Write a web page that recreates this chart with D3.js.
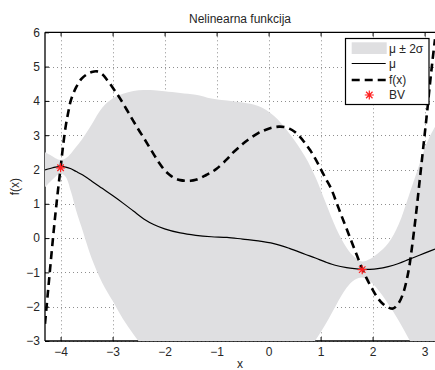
<!DOCTYPE html>
<html>
<head>
<meta charset="utf-8">
<script src="https://cdn.jsdelivr.net/npm/d3@7"></script>
<style>
  html, body { margin: 0; padding: 0; background: #fff; }
  svg { display: block; font-family: "Liberation Sans", Arial, Helvetica, sans-serif; }
</style>
</head>
<body>
<svg id="chart" width="435" height="370"></svg>
<script>
// Posterior grid: mean and the mu ± 2 sigma envelope
const gridX = [-4.3, -4.2, -4.1, -4.0, -3.9, -3.8, -3.7, -3.6, -3.4, -3.2, -3.0, -2.8, -2.6, -2.4, -2.2, -2.0,
  -1.7, -1.4, -1.1, -0.8, -0.5, -0.2, 0.1, 0.4, 0.7, 0.9, 1.1, 1.3, 1.5, 1.65, 1.8, 1.95, 2.1, 2.3, 2.5,
  2.7, 2.9, 3.05, 3.2];
const muValues = [1.99, 2.03, 2.07, 2.09, 2.07, 2.02, 1.94, 1.86, 1.66, 1.45, 1.24, 1.02, 0.79, 0.56, 0.39, 0.27,
  0.15, 0.08, 0.04, 0.02, -0.03, -0.08, -0.16, -0.30, -0.47, -0.58, -0.70, -0.80, -0.86, -0.89, -0.91, -0.91, -0.89,
  -0.83, -0.74, -0.62, -0.50, -0.41, -0.32];
const upperValues = [2.50, 2.42, 2.33, 2.28, 2.33, 2.47, 2.66, 2.85, 3.32, 3.80, 4.07, 4.21, 4.29, 4.32, 4.31, 4.28,
  4.23, 4.18, 4.07, 4.01, 3.95, 3.85, 3.57, 3.05, 2.38, 1.78, 1.02, 0.28, -0.28, -0.55, -0.68, -0.61, -0.45,
  -0.15, 0.40, 1.25, 2.15, 2.80, 3.25];
const lowerValues = [1.48, 1.64, 1.79, 1.89, 1.78, 1.35, 0.80, 0.33, -0.60, -1.30, -1.83, -2.36, -2.80, -3.20, -3.55, -3.85,
  -4.20, -4.40, -4.50, -4.50, -4.40, -4.30, -4.10, -3.80, -3.35, -2.98, -2.50, -1.95, -1.45, -1.22, -1.15, -1.26, -1.50,
  -1.92, -2.40, -2.95, -3.50, -3.90, -4.30];

// The true nonlinear function f(x)
const fX = [-4.3, -4.25, -4.2, -4.15, -4.1, -4.05, -4.0, -3.95, -3.9, -3.85, -3.8, -3.7, -3.6, -3.5, -3.4, -3.3,
  -3.2, -3.1, -3.0, -2.9, -2.8, -2.7, -2.6, -2.5, -2.4, -2.3, -2.2, -2.1, -2.0, -1.9, -1.8, -1.7, -1.6, -1.5,
  -1.4, -1.3, -1.2, -1.1, -1.0, -0.8, -0.7, -0.5, -0.4, -0.2, -0.1, 0.0, 0.1, 0.2, 0.3, 0.4, 0.5, 0.6, 0.7,
  0.8, 0.9, 1.0, 1.1, 1.2, 1.3, 1.4, 1.5, 1.6, 1.7, 1.8, 1.9, 2.0, 2.1, 2.2, 2.3, 2.35, 2.4, 2.5, 2.6, 2.7,
  2.75, 2.8, 2.85, 2.9, 2.95, 3.0, 3.05, 3.1, 3.15, 3.2];
const fValues = [-2.5, -1.68, -0.86, -0.06, 0.70, 1.40, 2.05, 2.72, 3.28, 3.69, 4.03, 4.40, 4.64, 4.77, 4.84, 4.86,
  4.78, 4.60, 4.39, 4.17, 3.93, 3.67, 3.41, 3.16, 2.92, 2.67, 2.42, 2.18, 1.98, 1.84, 1.74, 1.69, 1.67, 1.67,
  1.70, 1.76, 1.84, 1.92, 2.02, 2.30, 2.47, 2.74, 2.86, 3.06, 3.13, 3.19, 3.23, 3.25, 3.24, 3.19, 3.10, 2.96, 2.77,
  2.56, 2.31, 2.02, 1.73, 1.45, 1.06, 0.66, 0.27, -0.12, -0.51, -0.89, -1.22, -1.50, -1.75, -1.92, -2.02, -2.05, -2.05, -1.90, -1.55, -0.88,
  -0.35, 0.25, 0.90, 1.60, 2.30, 3.00, 3.70, 4.45, 5.15, 5.80];

// Observed points (BV)
const bvX = [-4.0, 1.8];
const bvY = [2.05, -0.92];

const xTicks = [-4, -3, -2, -1, 0, 1, 2, 3];
const yTicks = [-3, -2, -1, 0, 1, 2, 3, 4, 5, 6];

const titleText = "Nelinearna funkcija";
const xLabel = "x";
const yLabel = "f(x)";
const legendLabels = ["μ ± 2σ", "μ", "f(x)", "BV"];

const bandColor = "#dfdfe1";
const starColor = "#ff2020";
const textColor = "#262626";
const fontSize = "12px";

const pL = 45, pT = 32.3, pR = 435, pB = 341;

const svg = d3.select("#chart");
const x = d3.scaleLinear().domain([-4.3, 3.2]).range([pL, pR]);
const y = d3.scaleLinear().domain([-3, 6]).range([pB, pT]);

svg.append("defs").append("clipPath").attr("id", "plotClip")
  .append("rect").attr("x", pL).attr("y", pT).attr("width", pR - pL).attr("height", pB - pT);

// dotted grid
const grid = svg.append("g").attr("stroke", "#444").attr("stroke-width", 1)
  .attr("stroke-dasharray", "1,3").attr("opacity", 0.6);
grid.selectAll("line.gx").data(xTicks).join("line").attr("class", "gx")
  .attr("x1", d => Math.round(x(d)) + 0.5).attr("x2", d => Math.round(x(d)) + 0.5)
  .attr("y1", pT).attr("y2", pB);
grid.selectAll("line.gy").data(yTicks).join("line").attr("class", "gy")
  .attr("y1", d => Math.round(y(d)) + 0.5).attr("y2", d => Math.round(y(d)) + 0.5)
  .attr("x1", pL).attr("x2", pR);

// axes
const gx = svg.append("g").attr("transform", `translate(0,${pB})`)
  .call(d3.axisBottom(x).tickValues(xTicks).tickSize(-4).tickPadding(6).tickFormat(d3.format("d")));
const gxTop = svg.append("g").attr("transform", `translate(0,${pT})`)
  .call(d3.axisTop(x).tickValues(xTicks).tickSize(-4).tickFormat(""));
const gy = svg.append("g").attr("transform", `translate(${pL},0)`)
  .call(d3.axisLeft(y).tickValues(yTicks).tickSize(-4).tickPadding(5).tickFormat(d3.format("d")));
[gx, gxTop, gy].forEach(g => {
  g.select(".domain").remove();
  g.selectAll(".tick line").attr("stroke", "#000").attr("stroke-width", 1);
  g.selectAll(".tick text").attr("fill", textColor).style("font-size", fontSize)
    .style("font-family", "'Liberation Sans', Arial, sans-serif");
});
const frame = svg.append("g").attr("stroke", "#000").attr("stroke-width", 1.3).attr("fill", "none");
frame.append("line").attr("x1", pL).attr("x2", pL).attr("y1", pT).attr("y2", pB);
frame.append("line").attr("x1", pL).attr("x2", pR).attr("y1", pB).attr("y2", pB);
frame.append("line").attr("x1", pL).attr("x2", pR).attr("y1", pT).attr("y2", pT);

// data layer
const plot = svg.append("g").attr("clip-path", "url(#plotClip)");
const bandData = gridX.map((d, i) => ({x: d, lo: lowerValues[i], hi: upperValues[i]}));
plot.append("path").datum(bandData)
  .attr("fill", bandColor)
  .attr("d", d3.area().x(d => x(d.x)).y0(d => y(d.lo)).y1(d => y(d.hi)).curve(d3.curveCatmullRom.alpha(0.5)));

const muData = gridX.map((d, i) => ({x: d, y: muValues[i]}));
plot.append("path").datum(muData)
  .attr("fill", "none").attr("stroke", "#000").attr("stroke-width", 1.2)
  .attr("d", d3.line().x(d => x(d.x)).y(d => y(d.y)).curve(d3.curveCatmullRom.alpha(0.5)));

const fData = fX.map((d, i) => ({x: d, y: fValues[i]}));
plot.append("path").datum(fData)
  .attr("fill", "none").attr("stroke", "#000").attr("stroke-width", 2.6)
  .attr("stroke-dasharray", "8,5")
  .attr("d", d3.line().x(d => x(d.x)).y(d => y(d.y)).curve(d3.curveCatmullRom.alpha(0.5)));

// asterisk marker: plus and cross combined
function asterisk(r) {
  const k = r * 0.72;
  return `M${-r},0L${r},0M0,${-r}L0,${r}M${-k},${-k}L${k},${k}M${-k},${k}L${k},${-k}`;
}
const bvData = bvX.map((d, i) => ({x: d, y: bvY[i]}));
svg.append("g").selectAll("path").data(bvData).join("path")
  .attr("transform", d => `translate(${x(d.x)},${y(d.y)})`)
  .attr("d", asterisk(4.5)).attr("stroke", starColor).attr("stroke-width", 1.2).attr("fill", "none");

// title and axis labels
svg.append("text").attr("x", (pL + pR) / 2).attr("y", 23).attr("text-anchor", "middle")
  .style("font-size", fontSize).attr("fill", textColor).text(titleText);
svg.append("text").attr("x", (pL + pR) / 2).attr("y", 368).attr("text-anchor", "middle")
  .style("font-size", fontSize).attr("fill", textColor).text(xLabel);
svg.append("text").attr("transform", `translate(19,${(pT + pB) / 2}) rotate(-90)`)
  .attr("text-anchor", "middle").style("font-size", fontSize).attr("fill", textColor).text(yLabel);

// legend
const lg = svg.append("g");
lg.append("rect").attr("x", 345.5).attr("y", 38.5).attr("width", 83.5).attr("height", 66)
  .attr("fill", "#fff").attr("stroke", "#000").attr("stroke-width", 1.2);
const rowY = [48.3, 63.5, 80, 95];
lg.append("rect").attr("x", 351.7).attr("y", 42.3).attr("width", 35).attr("height", 11.7).attr("fill", bandColor);
lg.append("line").attr("x1", 351.7).attr("x2", 385.7).attr("y1", rowY[1]).attr("y2", rowY[1])
  .attr("stroke", "#000").attr("stroke-width", 1.2);
lg.append("line").attr("x1", 351.7).attr("x2", 385.7).attr("y1", rowY[2]).attr("y2", rowY[2])
  .attr("stroke", "#000").attr("stroke-width", 2.6).attr("stroke-dasharray", "8,5");
lg.append("path").attr("transform", `translate(369.3,${rowY[3]})`).attr("d", asterisk(4.5))
  .attr("stroke", starColor).attr("stroke-width", 1.2).attr("fill", "none");
lg.selectAll("text").data(legendLabels).join("text")
  .attr("x", 389).attr("y", (d, i) => rowY[i] + 4.3)
  .style("font-size", fontSize).attr("fill", textColor).text(d => d);
</script>
</body>
</html>
